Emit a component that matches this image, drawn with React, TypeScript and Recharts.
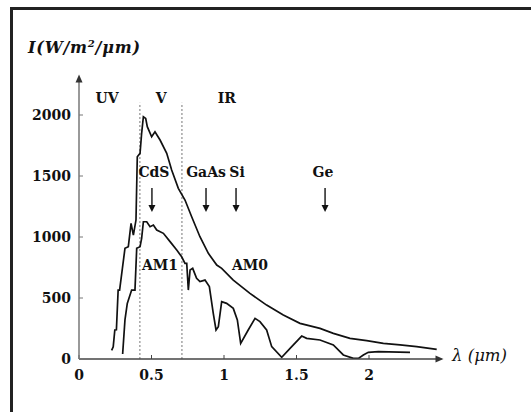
import React from "react";
import { LineChart, Line, XAxis, YAxis, ReferenceLine, ReferenceDot } from "recharts";

// AM0 (extraterrestrial) spectrum, wavelength in µm / intensity in W/m²/µm
const am0Wavelength = [0.225, 0.236, 0.247, 0.258, 0.27, 0.28, 0.317, 0.34, 0.359, 0.375, 0.393, 0.402, 0.421, 0.432, 0.444, 0.46, 0.471, 0.501, 0.524, 0.559, 0.605, 0.639, 0.685, 0.731, 0.777, 0.834, 0.892, 0.95, 0.984, 1.064, 1.179, 1.294, 1.409, 1.524, 1.662, 1.754, 1.869, 1.984, 2.099, 2.214, 2.329, 2.467];
const am0Intensity = [70, 100, 238, 240, 565, 565, 907, 920, 1112, 1016, 1139, 1658, 1686, 1850, 1986, 1972, 1904, 1822, 1863, 1795, 1686, 1549, 1399, 1303, 1166, 1002, 866, 770, 743, 647, 538, 442, 361, 292, 251, 210, 169, 150, 128, 115, 101, 79];

// AM1 (sea level) spectrum
const am1Wavelength = [0.301, 0.317, 0.333, 0.363, 0.386, 0.398, 0.421, 0.432, 0.444, 0.467, 0.49, 0.513, 0.536, 0.582, 0.628, 0.674, 0.708, 0.731, 0.743, 0.754, 0.766, 0.784, 0.811, 0.834, 0.869, 0.899, 0.926, 0.945, 0.961, 0.984, 1.018, 1.064, 1.092, 1.115, 1.167, 1.214, 1.248, 1.294, 1.329, 1.398, 1.467, 1.536, 1.57, 1.662, 1.754, 1.823, 1.892, 1.927, 1.961, 1.995, 2.064, 2.283];
const am1Intensity = [41, 320, 456, 565, 565, 907, 920, 989, 1125, 1125, 1084, 1098, 1057, 1030, 962, 893, 838, 784, 784, 565, 730, 743, 661, 634, 647, 593, 374, 238, 265, 470, 456, 415, 320, 128, 238, 333, 306, 238, 101, 14, 101, 188, 169, 156, 115, 33, 5, 5, 33, 55, 60, 55];

const xTicks = [0, 0.5, 1, 1.5, 2];
const yTicks = [0, 500, 1000, 1500, 2000];

const bandEdges = [0.42, 0.71];
const bandNames = ["UV", "V", "IR"];
const bandLabelX = [0.193, 0.566, 1.02];

const materials = ["CdS", "GaAs", "Si", "Ge"];
const materialLabelX = [0.517, 0.876, 1.09, 1.683];
const materialArrowX = [0.503, 0.876, 1.083, 1.697];

const curveNames = ["AM1", "AM0"];
const curveLabelX = [0.559, 1.179];

const am0 = am0Wavelength.map((x, i) => ({ x, y: am0Intensity[i] }));
const am1 = am1Wavelength.map((x, i) => ({ x, y: am1Intensity[i] }));

const FONT = "'DejaVu Serif', serif";
const INK = "#111";

const textShape = (label: string) => (p: any) => (
  <text x={p.cx} y={p.cy} textAnchor="middle" dominantBaseline="central" fontFamily={FONT} fontWeight="bold" fontSize={14} fill={INK}>
    {label}
  </text>
);

const arrowDown = (p: any) => (
  <g>
    <line x1={p.cx} y1={p.cy} x2={p.cx} y2={p.cy + 18} stroke={INK} strokeWidth={1.4} />
    <path d={`M${p.cx - 3.5},${p.cy + 17} L${p.cx + 3.5},${p.cy + 17} L${p.cx},${p.cy + 24} Z`} fill={INK} />
  </g>
);

const arrowRight = (p: any) => (
  <path d={`M${p.cx - 6},${p.cy - 3.5} L${p.cx + 2},${p.cy} L${p.cx - 6},${p.cy + 3.5} Z`} fill="#333" />
);

const arrowUp = (p: any) => (
  <path d={`M${p.cx - 3.5},${p.cy + 4} L${p.cx},${p.cy - 4} L${p.cx + 3.5},${p.cy + 4} Z`} fill="#333" />
);

export default function App() {
  return (
    <div style={{ position: "absolute", left: 0, top: 0, width: 531, height: 412, background: "#fff", overflow: "hidden" }}>
      <div style={{ position: "absolute", left: 10, top: 7, width: 540, height: 420, borderTop: "3px solid #222", borderLeft: "3px solid #222" }} />
      <div style={{ position: "absolute", left: 28, top: 38, fontFamily: FONT, fontStyle: "italic", fontWeight: "bold", fontSize: 16, letterSpacing: 0.8, color: INK, whiteSpace: "nowrap" }}>
        I(W/m<sup style={{ fontSize: 10 }}>2</sup>/μm)
      </div>
      <div style={{ position: "absolute", left: 452, top: 346, fontFamily: FONT, fontStyle: "italic", fontSize: 16.5, color: INK, whiteSpace: "nowrap" }}>
        λ (μm)
      </div>
      <LineChart width={531} height={412} margin={{ top: 78.4, right: 89.5, bottom: 23, left: 19 }} style={{ position: "absolute", left: 0, top: 0 }}>
        <XAxis
          type="number"
          dataKey="x"
          domain={[0, 2.5]}
          ticks={xTicks}
          allowDataOverflow
          height={30}
          axisLine={{ stroke: "#444", strokeWidth: 1.5 }}
          tickLine={{ stroke: "#444" }}
          tickSize={-4}
          tickMargin={15}
          tick={{ fontFamily: FONT, fontWeight: "bold", fontSize: 14, fill: INK }}
        />
        <YAxis
          type="number"
          dataKey="y"
          domain={[0, 2300]}
          ticks={yTicks}
          allowDataOverflow
          width={60}
          axisLine={{ stroke: "#777", strokeWidth: 1.5 }}
          tickLine={{ stroke: "#777" }}
          tickSize={-4}
          tickMargin={12}
          tick={{ fontFamily: FONT, fontWeight: "bold", fontSize: 14, fill: INK }}
        />
        {bandEdges.map((x) => (
          <ReferenceLine key={x} segment={[{ x, y: 0 }, { x, y: 2100 }]} stroke="#777" strokeDasharray="2 2" strokeWidth={1} />
        ))}
        <Line data={am0} dataKey="y" type="linear" stroke="#111" strokeWidth={1.7} dot={false} isAnimationActive={false} />
        <Line data={am1} dataKey="y" type="linear" stroke="#111" strokeWidth={1.7} dot={false} isAnimationActive={false} />
        <ReferenceDot x={2.5} y={0} r={0} ifOverflow="visible" shape={arrowRight} />
        <ReferenceDot x={0} y={2300} r={0} ifOverflow="visible" shape={arrowUp} />
        {bandNames.map((n, i) => (
          <ReferenceDot key={n} x={bandLabelX[i]} y={2139} r={0} ifOverflow="visible" shape={textShape(n)} />
        ))}
        {materials.map((n, i) => (
          <ReferenceDot key={n} x={materialLabelX[i]} y={1533} r={0} ifOverflow="visible" shape={textShape(n)} />
        ))}
        {materials.map((n, i) => (
          <ReferenceDot key={n + "-arrow"} x={materialArrowX[i]} y={1402} r={0} ifOverflow="visible" shape={arrowDown} />
        ))}
        {curveNames.map((n, i) => (
          <ReferenceDot key={n} x={curveLabelX[i]} y={770} r={0} ifOverflow="visible" shape={textShape(n)} />
        ))}
      </LineChart>
    </div>
  );
}
